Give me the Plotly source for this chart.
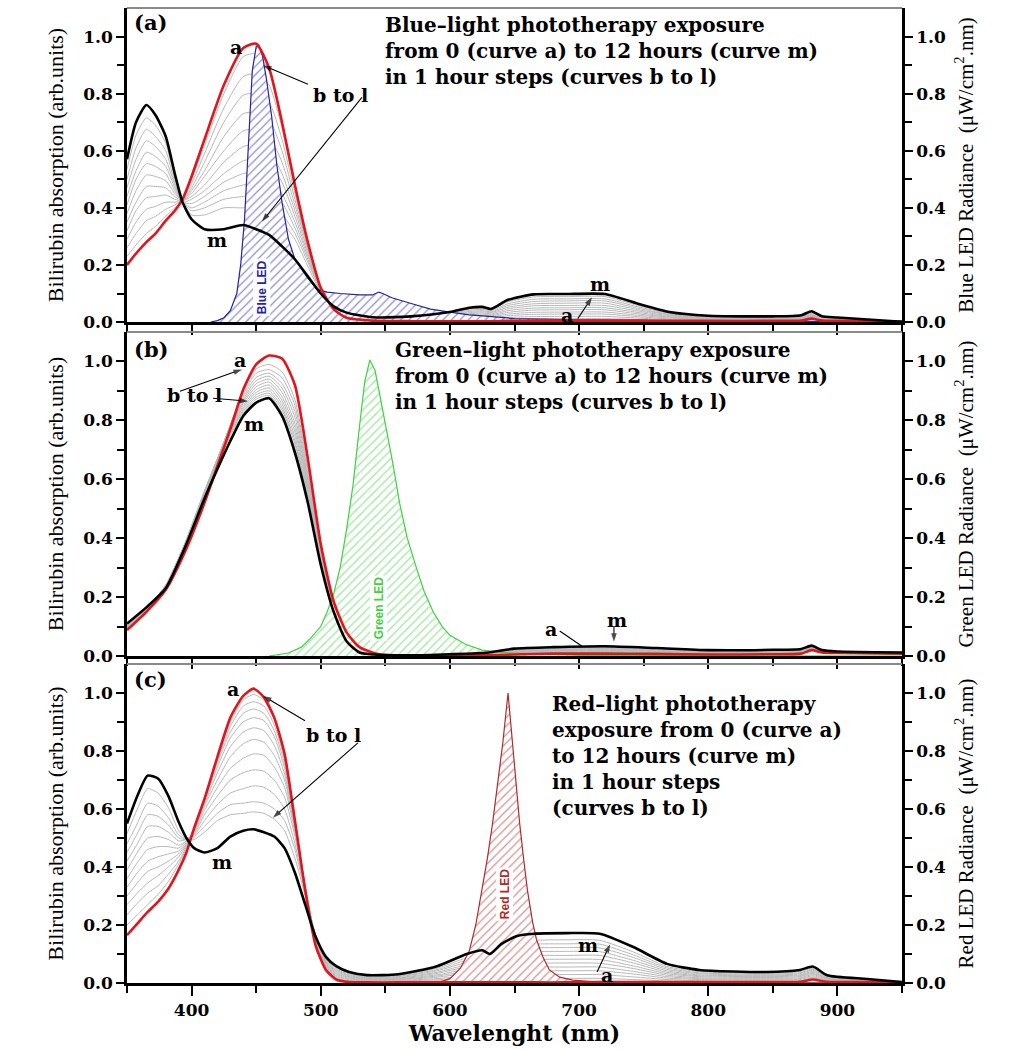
import plotly.graph_objects as go

# ---------------- DATA ----------------
# Panel (a): blue-light exposure
WL_A = [350, 357, 365, 372, 380, 387, 393, 400, 410, 425, 440, 450, 460, 470, 480, 490, 500, 510, 520, 540,
        570, 600, 615, 625, 632, 645, 665, 690, 720, 745, 770, 800, 850, 872, 880, 888, 900, 950]
A_CURVE_A = [.20, .24, .28, .31, .355, .39, .43, .51, .64, .83, .96, .975, .89, .70, .48, .28, .12, .045, .015, .005,
             .003, .003, .003, .003, .003, .004, .005, .005, .005, .005, .004, .004, .004, .005, .012, .005, .004, .002]
A_CURVE_M = [.57, .70, .76, .725, .65, .52, .42, .36, .325, .325, .34, .325, .305, .265, .22, .16, .10, .055, .033, .017,
             .02, .035, .05, .053, .046, .078, .097, .098, .098, .065, .035, .022, .02, .024, .038, .02, .016, .001]
# rows = wavelengths of WL_A, columns = curves b..l
A_GRAY_TABLE = [
    [.23, .26, .29, .32, .35, .38, .41, .44, .47, .50, .535],
    [.27, .31, .35, .39, .42, .46, .50, .53, .57, .61, .655],
    [.31, .355, .395, .435, .475, .515, .555, .595, .635, .675, .715],
    [.335, .37, .405, .44, .475, .51, .545, .58, .615, .65, .69],
    [.37, .395, .42, .445, .47, .495, .52, .545, .57, .60, .625],
    [.40, .41, .42, .43, .44, .45, .46, .47, .48, .49, .505],
    [.43, .43, .425, .425, .425, .425, .42, .42, .42, .42, .42],
    [.50, .485, .47, .46, .45, .44, .43, .415, .40, .39, .375],
    [.62, .59, .56, .53, .51, .48, .46, .44, .42, .40, .375],
    [.80, .75, .70, .65, .60, .56, .52, .49, .46, .43, .40],
    [.93, .86, .795, .73, .67, .615, .565, .52, .48, .44, .40],
    [.94, .87, .80, .735, .675, .62, .57, .525, .485, .445, .405],
    [.88, .83, .77, .71, .65, .60, .555, .51, .47, .43, .39],
    [.70, .68, .64, .60, .56, .52, .49, .45, .42, .38, .35],
    [.48, .47, .45, .43, .41, .39, .37, .35, .33, .31, .29],
    [.28, .275, .27, .265, .26, .25, .24, .23, .22, .21, .195],
    [.12, .12, .12, .12, .12, .115, .115, .115, .11, .11, .105],
    [.047, .048, .049, .05, .051, .052, .052, .053, .054, .054, .055],
    [.017, .019, .021, .023, .025, .026, .027, .028, .029, .030, .031],
    [.006, .007, .008, .009, .010, .011, .012, .013, .014, .015, .016],
    [.004, .006, .007, .009, .010, .012, .013, .015, .016, .017, .019],
    [.006, .008, .011, .013, .016, .018, .021, .024, .027, .030, .032],
    [.007, .011, .014, .018, .021, .025, .029, .033, .037, .041, .045],
    [.008, .012, .016, .020, .024, .028, .032, .036, .040, .044, .048],
    [.007, .011, .014, .018, .022, .025, .029, .033, .036, .040, .043],
    [.010, .016, .022, .028, .034, .040, .046, .052, .058, .064, .071],
    [.012, .019, .027, .034, .042, .049, .057, .064, .072, .080, .088],
    [.012, .020, .028, .035, .043, .050, .058, .066, .074, .081, .089],
    [.012, .020, .028, .035, .043, .050, .058, .066, .074, .081, .089],
    [.009, .014, .019, .024, .029, .034, .039, .044, .049, .054, .059],
    [.006, .009, .011, .014, .017, .019, .022, .025, .027, .030, .032],
    [.006, .007, .009, .010, .012, .013, .015, .016, .018, .019, .021],
    [.005, .007, .008, .010, .011, .012, .014, .015, .016, .018, .019],
    [.007, .008, .010, .012, .013, .015, .016, .018, .019, .021, .023],
    [.014, .016, .018, .020, .022, .024, .026, .029, .031, .033, .036],
    [.006, .007, .008, .010, .011, .012, .014, .015, .016, .018, .019],
    [.005, .006, .007, .008, .009, .010, .011, .012, .013, .014, .015],
    [.002, .002, .002, .002, .002, .001, .001, .001, .001, .001, .001],
]
BLUE_LED_WL = [415, 420, 425, 430, 435, 438, 441, 444, 447, 450, 452, 455, 458, 462, 466, 470, 475, 480, 489, 497,
               505, 515, 530, 540, 545, 548, 555, 570, 585, 600, 615, 630, 650, 700, 750, 800, 900, 950]
BLUE_LED_VAL = [0, .005, .015, .04, .10, .20, .36, .62, .88, .965, .97, .93, .85, .72, .55, .42, .29, .22, .16, .115,
                .105, .10, .095, .095, .105, .10, .085, .065, .045, .035, .025, .02, .012, .008, .005, .004, .002, .001]

# Panel (b): green-light exposure
WL_B = [350, 365, 380, 395, 410, 420, 430, 440, 450, 460, 470, 480, 490, 500, 510, 520, 530, 545, 570, 600,
        630, 650, 680, 720, 760, 800, 850, 872, 880, 888, 900, 950]
B_CURVE_A = [.088, .15, .225, .355, .52, .645, .77, .905, .99, 1.02, 1.01, .92, .67, .38, .185, .08, .03, .006, .002, .002,
             .003, .005, .008, .008, .007, .005, .006, .008, .02, .012, .01, .008]
B_CURVE_M = [.11, .165, .23, .37, .535, .635, .73, .815, .86, .875, .815, .69, .52, .31, .15, .05, .012, .004, .002, .006,
             .012, .025, .03, .033, .027, .02, .021, .024, .035, .02, .015, .012]
B_GRAY_TABLE = [
    [.090, .092, .094, .096, .098, .100, .102, .104, .105, .106, .108],
    [.152, .154, .156, .158, .160, .161, .162, .163, .164, .165, .165],
    [.232, .234, .236, .238, .240, .240, .240, .240, .238, .236, .232],
    [.370, .375, .378, .380, .382, .383, .384, .384, .383, .382, .378],
    [.540, .548, .552, .556, .558, .560, .560, .558, .556, .552, .545],
    [.660, .665, .668, .670, .670, .670, .668, .665, .660, .655, .648],
    [.785, .785, .783, .780, .777, .774, .770, .765, .760, .755, .748],
    [.900, .890, .880, .872, .865, .858, .850, .843, .836, .830, .824],
    [.975, .960, .946, .935, .924, .914, .904, .895, .887, .879, .872],
    [.990, .972, .960, .950, .940, .930, .920, .910, .900, .892, .885],
    [.965, .945, .925, .910, .895, .880, .868, .856, .845, .835, .825],
    [.870, .850, .830, .810, .790, .775, .760, .745, .730, .720, .705],
    [.635, .620, .605, .595, .585, .575, .565, .555, .545, .535, .525],
    [.355, .350, .345, .340, .335, .330, .328, .325, .322, .318, .315],
    [.178, .175, .172, .170, .167, .164, .162, .160, .158, .155, .153],
    [.076, .074, .072, .070, .068, .066, .064, .062, .060, .058, .057],
    [.028, .027, .026, .025, .024, .023, .022, .021, .020, .018, .017],
    [.006, .006, .006, .005, .005, .005, .005, .005, .005, .004, .004],
    [.002, .002, .002, .002, .002, .002, .002, .002, .002, .002, .002],
    [.003, .003, .003, .004, .004, .004, .005, .005, .005, .005, .006],
    [.004, .005, .006, .007, .007, .008, .009, .010, .010, .011, .011],
    [.007, .009, .011, .012, .014, .015, .017, .019, .020, .022, .023],
    [.010, .012, .014, .016, .018, .019, .021, .023, .025, .027, .028],
    [.010, .013, .015, .017, .019, .021, .023, .025, .027, .029, .031],
    [.009, .011, .013, .015, .016, .018, .020, .021, .023, .024, .026],
    [.006, .008, .009, .010, .011, .013, .014, .015, .016, .017, .019],
    [.007, .008, .009, .011, .012, .013, .014, .016, .017, .018, .019],
    [.009, .010, .012, .013, .014, .016, .017, .018, .020, .021, .022],
    [.021, .022, .023, .024, .025, .027, .028, .029, .030, .032, .033],
    [.012, .013, .014, .015, .015, .016, .017, .017, .018, .019, .019],
    [.010, .011, .011, .012, .012, .013, .013, .014, .014, .014, .015],
    [.008, .009, .009, .009, .010, .010, .010, .011, .011, .011, .012],
]
GREEN_LED_WL = [460, 475, 485, 492, 500, 505, 510, 515, 520, 525, 530, 534, 538, 542, 546, 551, 556, 561, 567, 574,
                580, 587, 594, 600, 612, 625, 640, 660, 700, 950]
GREEN_LED_VAL = [0, .01, .03, .06, .10, .15, .21, .30, .43, .58, .78, .93, 1.005, .97, .88, .77, .65, .52, .40, .30,
                 .22, .15, .10, .07, .04, .02, .012, .008, .002, 0]

# Panel (c): red-light exposure
WL_C = [350, 358, 366, 374, 382, 390, 396, 402, 410, 420, 430, 440, 448, 456, 464, 472, 480, 488, 496, 504,
        512, 522, 536, 560, 590, 613, 625, 631, 640, 652, 665, 690, 716, 742, 768, 793, 845, 871, 881, 892, 923, 950]
C_CURVE_A = [.165, .205, .245, .28, .325, .39, .45, .535, .635, .78, .915, .99, 1.015, .985, .915, .79, .56, .32, .13, .045,
             .012, .003, .002, .002, .002, .002, .002, .002, .002, .002, .002, .002, .003, .003, .003, .003, .003, .004,
             .012, .004, .003, .002]
C_CURVE_M = [.55, .645, .715, .705, .645, .555, .50, .465, .45, .465, .505, .525, .53, .52, .505, .465, .38, .27, .16, .09,
             .058, .038, .027, .03, .058, .10, .113, .10, .135, .162, .17, .172, .17, .124, .066, .045, .038, .045,
             .057, .027, .014, .003]
C_GRAY_TABLE = [
    [.20, .235, .27, .30, .33, .36, .39, .42, .45, .48, .515],
    [.235, .275, .31, .345, .38, .415, .45, .48, .515, .55, .60],
    [.27, .31, .345, .385, .42, .46, .50, .54, .58, .62, .67],
    [.305, .335, .37, .40, .435, .47, .505, .54, .575, .61, .655],
    [.35, .375, .40, .42, .445, .47, .495, .52, .545, .57, .605],
    [.41, .42, .435, .445, .455, .465, .475, .49, .50, .51, .525],
    [.465, .47, .475, .48, .485, .49, .49, .495, .495, .495, .495],
    [.535, .535, .535, .53, .53, .525, .52, .515, .51, .505, .495],
    [.64, .64, .635, .63, .62, .61, .595, .58, .56, .54, .52],
    [.78, .77, .76, .745, .725, .70, .675, .645, .615, .585, .56],
    [.90, .885, .865, .845, .815, .78, .74, .70, .655, .615, .58],
    [.975, .955, .93, .90, .865, .825, .775, .725, .67, .62, .585],
    [.995, .97, .945, .915, .88, .84, .79, .735, .68, .625, .59],
    [.975, .955, .93, .905, .87, .83, .785, .73, .675, .62, .585],
    [.91, .89, .87, .85, .82, .785, .745, .70, .65, .60, .565],
    [.78, .77, .755, .74, .72, .70, .675, .64, .60, .56, .525],
    [.56, .555, .55, .545, .54, .53, .52, .505, .48, .46, .43],
    [.33, .33, .33, .33, .33, .33, .33, .325, .32, .31, .30],
    [.14, .145, .145, .15, .15, .155, .155, .16, .16, .165, .165],
    [.052, .055, .058, .061, .064, .067, .07, .073, .076, .08, .083],
    [.015, .018, .022, .025, .029, .032, .036, .04, .043, .047, .051],
    [.005, .008, .011, .014, .017, .02, .022, .025, .028, .031, .034],
    [.004, .006, .008, .01, .012, .014, .016, .018, .02, .022, .024],
    [.005, .007, .009, .011, .013, .015, .017, .019, .022, .024, .026],
    [.007, .011, .015, .02, .024, .028, .033, .037, .042, .046, .051],
    [.01, .018, .025, .033, .04, .048, .056, .063, .071, .079, .087],
    [.011, .02, .028, .037, .045, .054, .062, .071, .079, .088, .097],
    [.01, .018, .025, .033, .04, .048, .056, .063, .071, .078, .086],
    [.013, .023, .033, .044, .054, .065, .075, .085, .095, .106, .116],
    [.015, .027, .04, .052, .065, .077, .09, .102, .114, .127, .139],
    [.016, .029, .042, .055, .068, .081, .095, .108, .121, .134, .147],
    [.016, .029, .042, .055, .069, .082, .095, .109, .122, .135, .149],
    [.016, .029, .042, .055, .068, .081, .095, .108, .121, .134, .147],
    [.012, .021, .031, .04, .05, .059, .069, .078, .088, .097, .107],
    [.007, .012, .017, .022, .027, .032, .037, .042, .047, .052, .057],
    [.005, .008, .012, .015, .018, .022, .025, .028, .032, .035, .039],
    [.004, .007, .01, .013, .016, .019, .022, .025, .027, .03, .033],
    [.005, .008, .012, .015, .018, .022, .025, .028, .032, .035, .039],
    [.014, .018, .021, .025, .029, .033, .036, .04, .044, .047, .051],
    [.005, .007, .009, .011, .013, .015, .017, .019, .021, .023, .025],
    [.003, .004, .005, .006, .007, .008, .009, .01, .011, .012, .013],
    [.002, .002, .002, .002, .002, .003, .003, .003, .003, .003, .003],
]
RED_LED_WL = [590, 600, 608, 615, 620, 625, 629, 633, 637, 641, 645, 649, 652, 654, 657, 660, 664, 667, 672, 677,
              685, 695, 710, 750, 800, 950]
RED_LED_VAL = [0, .015, .05, .11, .2, .32, .43, .55, .69, .83, 1.0, .80, .66, .55, .43, .32, .21, .15, .09, .045,
               .02, .01, .005, .003, .002, 0]

Y_TICK_LABELS = ["0.0", "0.2", "0.4", "0.6", "0.8", "1.0"]
Y_TICK_VALUES = [0, 0.2, 0.4, 0.6, 0.8, 1.0]

NOTE_A = ["Blue–light phototherapy exposure", "from 0 (curve a) to 12 hours (curve m)",
          "in 1 hour steps (curves b to l)"]
NOTE_B = ["Green–light phototherapy exposure", "from 0 (curve a) to 12 hours (curve m)",
          "in 1 hour steps (curves b to l)"]
NOTE_C = ["Red–light phototherapy", "exposure from 0 (curve a)", "to 12 hours (curve m)",
          "in 1 hour steps", "(curves b to l)"]

# annotation arrows: (tail nm, tail value, tip nm, tip value, with head)
ARROWS_A = [(490.1, 0.833, 455.3, 0.899, True), (531.9, 0.787, 454.5, 0.352, True),
            (699.0, 0.012, 710.0, 0.087, True)]
ARROWS_B = [(391.0, 0.899, 439.0, 0.973, True), (416.6, 0.875, 443.7, 0.865, True),
            (685.0, 0.085, 702.0, 0.034, False), (727.0, 0.101, 727.0, 0.048, True)]
ARROWS_C = [(487.8, 0.904, 455.3, 0.99, True), (528.8, 0.828, 463.0, 0.57, True),
            (713.9, 0.038, 724.0, 0.134, True)]

# ---------------- STYLE ----------------
RED = "#e3141c"
GRAY = "#b8b8b8"
BLUE = "#2323a3"
GREEN = "#3fd23f"
DRED = "#b02a2a"
SERIF = "DejaVu Serif"
TSERIF = "Liberation Serif"

fig = go.Figure()

panels = [
    dict(xa="x", ya="y", yr="y4", wl=WL_A, ca=A_CURVE_A, cm=A_CURVE_M, gt=A_GRAY_TABLE,
         lw=BLUE_LED_WL, lv=BLUE_LED_VAL, lc=BLUE, arrows=ARROWS_A),
    dict(xa="x2", ya="y2", yr="y5", wl=WL_B, ca=B_CURVE_A, cm=B_CURVE_M, gt=B_GRAY_TABLE,
         lw=GREEN_LED_WL, lv=GREEN_LED_VAL, lc=GREEN, arrows=ARROWS_B),
    dict(xa="x3", ya="y3", yr="y6", wl=WL_C, ca=C_CURVE_A, cm=C_CURVE_M, gt=C_GRAY_TABLE,
         lw=RED_LED_WL, lv=RED_LED_VAL, lc=DRED, arrows=ARROWS_C),
]

for p in panels:
    gray_rows = list(zip(*p["gt"]))
    for row in gray_rows:
        fig.add_trace(go.Scatter(x=p["wl"], y=list(row), xaxis=p["xa"], yaxis=p["ya"], mode="lines",
                                 line=dict(color=GRAY, width=1.0, shape="spline", smoothing=0.6),
                                 hoverinfo="skip", showlegend=False))
    fig.add_trace(go.Scatter(x=p["lw"], y=p["lv"], xaxis=p["xa"], yaxis=p["ya"], mode="lines",
                             line=dict(color=p["lc"], width=1.2), fill="tozeroy", fillcolor="white",
                             fillpattern=dict(shape="/", fgcolor=p["lc"], bgcolor="white", size=6, solidity=0.22),
                             hoverinfo="skip", showlegend=False))
    fig.add_trace(go.Scatter(x=p["wl"], y=p["ca"], xaxis=p["xa"], yaxis=p["ya"], mode="lines",
                             line=dict(color=RED, width=2.6, shape="spline", smoothing=0.6),
                             hoverinfo="skip", showlegend=False))
    fig.add_trace(go.Scatter(x=p["wl"], y=p["cm"], xaxis=p["xa"], yaxis=p["ya"], mode="lines",
                             line=dict(color="black", width=2.6, shape="spline", smoothing=0.6),
                             hoverinfo="skip", showlegend=False))
    for (x0, y0, x1, y1, head) in p["arrows"]:
        fig.add_trace(go.Scatter(x=[x0, x1], y=[y0, y1], xaxis=p["xa"], yaxis=p["ya"], mode="lines+markers",
                                 line=dict(color="black", width=1.1),
                                 marker=dict(symbol="arrow", angleref="previous", size=[0, 9 if head else 0],
                                             color="black", line=dict(width=0)),
                                 hoverinfo="skip", showlegend=False))
    fig.add_trace(go.Scatter(x=[], y=[], xaxis=p["xa"], yaxis=p["yr"], showlegend=False, hoverinfo="skip"))

tickfont = dict(family=SERIF, size=17, color="black", weight="bold")
xcommon = dict(range=[350, 950], showline=True, linewidth=2.5, linecolor="black", ticks="outside",
               tickmode="linear", tick0=0, dtick=100, ticklen=10, tickwidth=2, tickcolor="black",
               minor=dict(dtick=50, ticks="outside", ticklen=7, tickwidth=1.5, tickcolor="black"),
               showgrid=False, zeroline=False, tickfont=tickfont, domain=[0, 1])
ycommon = dict(range=[0, 1.1], showline=True, linewidth=2.5, linecolor="black", ticks="outside",
               tickmode="array", tickvals=Y_TICK_VALUES, ticktext=Y_TICK_LABELS, ticklen=8, tickwidth=2,
               tickcolor="black",
               minor=dict(tickmode="array", tickvals=[0.1, 0.3, 0.5, 0.7, 0.9], ticks="outside", ticklen=7,
                          tickwidth=1.5, tickcolor="black"),
               showgrid=False, zeroline=False, tickfont=tickfont)

doms = [[0.6779, 1.0], [0.3354, 0.6677], [0.0, 0.3272]]
right_titles = ["Blue LED Radiance  (μW/cm<sup>2</sup>.nm)", "Green LED Radiance  (μW/cm<sup>2</sup>.nm)",
                "Red LED Radiance  (μW/cm<sup>2</sup>.nm)"]
lefttitle = "Bilirubin absorption (arb.units)"

layout = dict(width=1033, height=1050, margin=dict(l=127, r=131, t=8, b=64),
              paper_bgcolor="white", plot_bgcolor="white", showlegend=False)
for i in range(3):
    xs = "" if i == 0 else str(i + 1)
    layout["xaxis" + xs] = dict(xcommon, anchor="y" + xs, showticklabels=(i == 2))
    layout["yaxis" + xs] = dict(ycommon, domain=doms[i], anchor="x" + xs,
                                title=dict(text=lefttitle, font=dict(family=TSERIF, size=22, color="black"),
                                           standoff=14))
    layout["yaxis" + str(i + 4)] = dict(ycommon, overlaying="y" + xs, anchor="x" + xs, side="right",
                                        title=dict(text=right_titles[i],
                                                   font=dict(family=TSERIF, size=21, color="black"),
                                                   standoff=14))
layout["xaxis3"]["title"] = dict(text="Wavelenght (nm)", font=dict(family=SERIF, size=22, color="black",
                                                                    weight="bold"), standoff=6)
fig.update_layout(**layout)

# top grey borders of each panel
for i in range(3):
    ys = "y" if i == 0 else "y" + str(i + 1)
    fig.add_shape(type="line", xref="x domain" if i == 0 else "x%d domain" % (i + 1), yref=ys + " domain",
                  x0=0, x1=1, y0=1, y1=1, line=dict(color="#8a8a8a", width=2))

ann = []


def txt(xa, ya, x, y, text, size=19, color="black", xanchor="center", yanchor="middle", font=SERIF, bold=True,
        angle=0, bg=None, align="center"):
    d = dict(xref=xa, yref=ya, x=x, y=y, text=text, showarrow=False, xanchor=xanchor, yanchor=yanchor,
             align=align,
             font=dict(family=font, size=size, color=color, weight="bold" if bold else "normal"), textangle=angle)
    if bg:
        d["bgcolor"] = bg
        d["borderpad"] = 1
    ann.append(d)


# Panel (a)
txt("x", "y", 353.9, 1.049, "(a)", size=21, xanchor="left")
txt("x", "y", 548.2, 1.090, "<br>".join(NOTE_A), size=20, xanchor="left", yanchor="top", align="left")
txt("x", "y", 434.4, 0.965, "a")
txt("x", "y", 514.9, 0.794, "b to l")
txt("x", "y", 419.7, 0.289, "m")
txt("x", "y", 716.2, 0.132, "m")
txt("x", "y", 690.6, 0.024, "a")
txt("x", "y", 454.5, 0.122, "Blue LED", size=12, color=BLUE, font="Liberation Sans", angle=-90, bg="white")

# Panel (b)
txt("x2", "y2", 353.9, 1.041, "(b)", size=21, xanchor="left")
txt("x2", "y2", 555.9, 1.087, "<br>".join(NOTE_B), size=20, xanchor="left", yanchor="top", align="left")
txt("x2", "y2", 437.5, 1.005, "a")
txt("x2", "y2", 402.6, 0.885, "b to l")
txt("x2", "y2", 448.3, 0.787, "m")
txt("x2", "y2", 545.0, 0.162, "Green LED", size=12, color=GREEN, font="Liberation Sans", angle=-90, bg="white")
txt("x2", "y2", 678.2, 0.091, "a")
txt("x2", "y2", 729.4, 0.122, "m")

# Panel (c)
txt("x3", "y3", 353.9, 1.048, "(c)", size=21, xanchor="left")
txt("x3", "y3", 677.5, 1.010, "<br>".join(NOTE_C), size=20, xanchor="left", yanchor="top", align="left")
txt("x3", "y3", 432.0, 1.015, "a")
txt("x3", "y3", 509.5, 0.856, "b to l")
txt("x3", "y3", 423.5, 0.416, "m")
txt("x3", "y3", 642.6, 0.306, "Red LED", size=12, color=DRED, font="Liberation Sans", angle=-90, bg="white")
txt("x3", "y3", 706.9, 0.131, "m")
txt("x3", "y3", 721.6, 0.027, "a")

fig.update_layout(annotations=ann)
fig.write_html("out.html", config={"displayModeBar": False},
               post_script="document.body.style.margin='0px';document.body.style.overflow='hidden';")
